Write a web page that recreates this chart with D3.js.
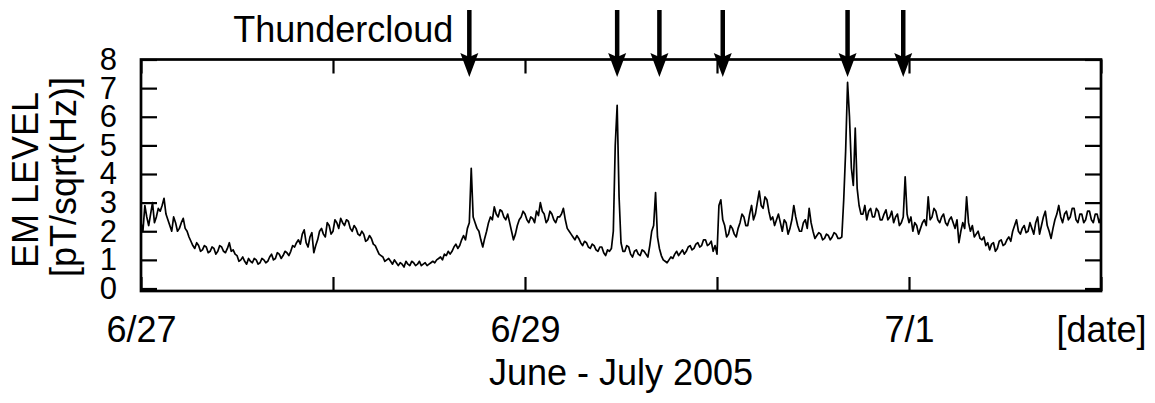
<!DOCTYPE html>
<html>
<head>
<meta charset="utf-8">
<script src="https://cdn.jsdelivr.net/npm/d3@7"></script>
<style>
    body { margin: 0; background: #fff; }
    text { font-family: "Liberation Sans", Arial, sans-serif; fill: #000; }
</style>
</head>
<body>
<div id="chart"></div>
<script>
// EM level samples, one every 0.01 day from 6/27 00:00
const sampleStartDate = Date.UTC(2005, 5, 27);
const sampleStepDays = 0.01;
const emLevel = [
    2.3, 2.0, 2.9, 2.5, 2.2, 2.6, 3.0, 2.3, 2.5, 2.8, 2.7, 2.9, 3.15, 2.6, 2.4, 2.2, 2.0, 2.5, 2.3, 2.0, 2.1, 2.3, 2.45, 2.1, 2.0,
    1.8, 1.65, 1.5, 1.4, 1.6, 1.5, 1.3, 1.35, 1.5, 1.45, 1.25, 1.3, 1.45, 1.4, 1.2, 1.3, 1.5, 1.45, 1.3, 1.25, 1.4, 1.6, 1.3, 1.35, 1.2,
    1.15, 0.95, 1.0, 1.1, 0.95, 0.85, 1.05, 0.95, 0.9, 1.05, 1.0, 0.85, 0.9, 1.05, 1.0, 0.9, 0.95, 1.1, 1.2, 1.0, 1.05, 1.25, 1.2, 1.05, 1.15,
    1.3, 1.25, 1.15, 1.3, 1.5, 1.45, 1.6, 1.7, 1.55, 1.9, 2.05, 1.6, 1.45, 1.8, 1.95, 1.25, 1.5, 1.7, 2.0, 2.1, 1.9, 1.8, 2.3, 2.2, 1.9,
    2.0, 2.4, 2.3, 2.1, 2.45, 2.3, 2.2, 2.4, 2.35, 2.1, 2.0, 2.2, 2.1, 1.9, 1.85, 2.0, 1.9, 1.65, 1.7, 1.85, 1.75, 1.55, 1.5, 1.35, 1.2,
    1.15, 1.1, 0.95, 1.0, 1.05, 0.95, 0.85, 1.0, 0.9, 0.8, 0.9, 0.85, 0.75, 0.95, 0.85, 0.8, 0.95, 0.9, 0.8, 0.85, 0.95, 0.8, 0.85, 0.9, 0.8,
    0.85, 0.9, 0.95, 0.9, 1.0, 1.05, 1.1, 1.0, 1.2, 1.15, 1.3, 1.2, 1.3, 1.45, 1.55, 1.4, 1.5, 1.7, 1.85, 1.7, 2.1, 2.3, 4.2, 2.5, 2.3,
    2.1, 2.0, 1.7, 1.45, 1.75, 2.0, 2.3, 2.5, 2.4, 2.85, 2.6, 2.5, 2.75, 2.7, 2.5, 2.4, 2.6, 2.3, 2.0, 1.7, 1.9, 2.2, 2.4, 2.5, 2.7,
    2.6, 2.4, 2.3, 2.5, 2.45, 2.3, 2.7, 2.55, 3.0, 2.7, 2.6, 2.3, 2.4, 2.7, 2.6, 2.4, 2.3, 2.5, 2.5, 2.6, 2.8, 2.4, 2.1, 2.0, 1.9,
    1.8, 1.7, 1.85, 1.75, 1.6, 1.5, 1.65, 1.6, 1.45, 1.4, 1.55, 1.5, 1.35, 1.3, 1.45, 1.45, 1.25, 1.15, 1.35, 1.3, 1.4, 2.0, 5.0, 6.4, 3.2,
    1.6, 1.3, 1.3, 1.5, 1.45, 1.2, 1.1, 1.3, 1.35, 1.2, 1.15, 1.35, 1.3, 1.2, 1.1, 1.5, 2.0, 2.2, 3.35, 1.8, 1.4, 1.15, 1.0, 0.95, 0.9,
    1.0, 1.1, 1.05, 1.2, 1.3, 1.15, 1.25, 1.35, 1.2, 1.3, 1.45, 1.5, 1.35, 1.4, 1.55, 1.6, 1.45, 1.5, 1.7, 1.7, 1.5, 1.55, 1.65, 1.3, 1.5,
    1.2, 2.9, 3.1, 2.4, 2.2, 1.8, 1.9, 2.2, 2.1, 1.9, 1.8, 2.1, 2.3, 2.6, 2.5, 2.2, 2.2, 2.6, 2.9, 2.4, 2.6, 3.0, 3.4, 2.9, 2.8,
    3.2, 3.1, 2.7, 2.4, 2.5, 2.2, 2.4, 2.6, 2.3, 2.0, 2.4, 2.3, 1.9, 2.1, 2.4, 2.9, 2.5, 2.2, 2.0, 2.0, 2.3, 2.4, 2.1, 2.8, 2.3,
    2.0, 1.75, 1.85, 1.95, 1.9, 1.7, 1.75, 1.9, 1.85, 1.7, 1.8, 1.95, 1.9, 1.75, 1.75, 1.8, 3.1, 4.8, 7.2, 6.0, 4.2, 3.6, 5.6, 3.5, 2.9,
    2.6, 2.6, 2.9, 2.4, 2.7, 2.8, 2.5, 2.5, 2.8, 2.7, 2.4, 2.4, 2.6, 2.75, 2.4, 2.5, 2.7, 2.3, 2.5, 2.6, 2.2, 2.3, 2.5, 3.9, 2.6,
    2.3, 2.5, 2.0, 2.3, 2.2, 1.9, 2.1, 2.3, 2.4, 2.2, 3.2, 2.4, 2.5, 2.8, 2.7, 2.4, 2.3, 2.5, 2.6, 2.3, 2.2, 2.4, 2.5, 2.3, 2.1,
    2.4, 1.6, 2.0, 2.3, 2.1, 3.2, 2.3, 2.0, 2.2, 1.8, 1.9, 2.0, 1.75, 1.7, 1.8, 1.5, 1.6, 1.35, 1.55, 1.6, 1.3, 1.4, 1.65, 1.7, 1.5,
    1.55, 1.7, 1.8, 1.65, 2.0, 2.2, 2.4, 2.0, 1.9, 2.1, 2.2, 1.95, 2.0, 2.3, 2.1, 1.9, 2.3, 2.5, 1.9, 2.2, 2.5, 2.7, 2.2, 2.0, 1.75,
    2.1, 2.4, 2.6, 2.9, 2.5, 2.3, 2.6, 2.7, 2.4, 2.5, 2.8, 2.8, 2.4, 2.3, 2.6, 2.6, 2.3, 2.4, 2.7, 2.7, 2.4, 2.3, 2.6, 2.6, 2.3,
    2.5
];

const xTickDates = [
    Date.UTC(2005, 5, 27), Date.UTC(2005, 5, 28), Date.UTC(2005, 5, 29),
    Date.UTC(2005, 5, 30), Date.UTC(2005, 6, 1), Date.UTC(2005, 6, 2)
];
const xTickLabels = ['6/27', '', '6/29', '', '7/1', '[date]'];
const yTicks = [0, 1, 2, 3, 4, 5, 6, 7, 8];

// thundercloud passages, days after 6/27 00:00
const thundercloudDays = [1.71, 2.48, 2.70, 3.03, 3.68, 3.97];

const DAY = 24 * 3600 * 1000;
const width = 1155, height = 403;
const margin = { left: 141, right: 54, top: 59.5, bottom: 114.5 };

const svg = d3.select('#chart')
    .append('svg')
    .attr('width', width)
    .attr('height', height);

const x = d3.scaleUtc()
    .domain([xTickDates[0], xTickDates[xTickDates.length - 1]])
    .range([margin.left, width - margin.right]);

const y = d3.scaleLinear()
    .domain([0, 8])
    .range([height - margin.bottom, margin.top]);

const frameBottom = y(0) + 2.5;

const data = emLevel.map((v, i) => ({
    t: new Date(sampleStartDate + i * sampleStepDays * DAY),
    v: v
}));

// data line
svg.append('path')
    .datum(data)
    .attr('fill', 'none')
    .attr('stroke', '#000')
    .attr('stroke-width', 1.7)
    .attr('stroke-linejoin', 'round')
    .attr('d', d3.line()
        .x(d => x(d.t))
        .y(d => y(d.v)));

// axes (ticks point inward)
const styleAxis = (g, size) => {
    g.select('.domain').remove();
    g.selectAll('.tick line').attr('stroke', '#000').attr('stroke-width', 2.2);
    g.selectAll('.tick text')
        .attr('font-size', size + 'px')
        .attr('font-family', '"Liberation Sans", Arial, sans-serif')
        .attr('fill', '#000');
};

svg.append('g')
    .attr('transform', 'translate(0,' + frameBottom + ')')
    .call(d3.axisBottom(x)
        .tickValues(xTickDates.map(d => new Date(d)))
        .tickFormat((d, i) => xTickLabels[i])
        .tickSizeInner(-14)
        .tickSizeOuter(0)
        .tickPadding(25))
    .call(styleAxis, 36);

svg.append('g')
    .attr('transform', 'translate(0,' + margin.top + ')')
    .call(d3.axisTop(x)
        .tickValues(xTickDates.map(d => new Date(d)))
        .tickFormat('')
        .tickSizeInner(-14)
        .tickSizeOuter(0))
    .call(styleAxis, 36);

svg.append('g')
    .attr('transform', 'translate(' + margin.left + ',0)')
    .call(d3.axisLeft(y)
        .tickValues(yTicks)
        .tickFormat(d3.format('d'))
        .tickSizeInner(-16)
        .tickSizeOuter(0)
        .tickPadding(24))
    .call(styleAxis, 31);

svg.append('g')
    .attr('transform', 'translate(' + (width - margin.right) + ',0)')
    .call(d3.axisRight(y)
        .tickValues(yTicks)
        .tickFormat('')
        .tickSizeInner(-16)
        .tickSizeOuter(0))
    .call(styleAxis, 31);

// frame
svg.append('rect')
    .attr('x', margin.left)
    .attr('y', margin.top)
    .attr('width', width - margin.right - margin.left)
    .attr('height', frameBottom - margin.top)
    .attr('fill', 'none')
    .attr('stroke', '#000')
    .attr('stroke-width', 2.7);

// thundercloud arrows
const arrows = svg.append('g').attr('class', 'arrows');
thundercloudDays.forEach(d => {
    let ax = x(new Date(sampleStartDate + d * DAY));
    arrows.append('line')
        .attr('x1', ax).attr('x2', ax)
        .attr('y1', 10).attr('y2', 58)
        .attr('stroke', '#000')
        .attr('stroke-width', 4.5);
    arrows.append('path')
        .attr('d', 'M' + ax + ',77 L' + (ax - 9) + ',53 L' + ax + ',57 L' + (ax + 9) + ',53 Z')
        .attr('fill', '#000');
});

svg.append('text')
    .attr('x', x(new Date(sampleStartDate + thundercloudDays[0] * DAY)) - 16)
    .attr('y', 42)
    .attr('text-anchor', 'end')
    .attr('font-size', '36px')
    .text('Thundercloud');

// axis titles
svg.append('text')
    .attr('x', (margin.left + width - margin.right) / 2)
    .attr('y', 385)
    .attr('text-anchor', 'middle')
    .attr('font-size', '36px')
    .text('June - July 2005');

svg.append('text')
    .attr('transform', 'translate(38,180) rotate(-90)')
    .attr('text-anchor', 'middle')
    .attr('font-size', '36px')
    .text('EM LEVEL');

svg.append('text')
    .attr('transform', 'translate(76,177) rotate(-90)')
    .attr('text-anchor', 'middle')
    .attr('font-size', '36px')
    .text('[pT/sqrt(Hz)]');
</script>
</body>
</html>
